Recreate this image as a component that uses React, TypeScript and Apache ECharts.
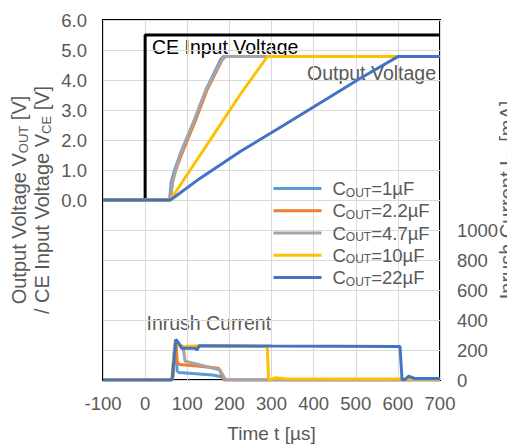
import React, { useEffect, useRef } from "react";
import * as echarts from "echarts";

// ---- data ----
const capLabels = ["1", "2.2", "4.7", "10", "22"];
const capColors = ["#5B9BD5", "#ED7D31", "#A5A5A5", "#FFC000", "#4472C4"];

const ceVoltage: number[][] = [[-100, 0], [0, 0], [0, 5.5], [700, 5.5]];

const vout1uF: number[][] = [[-100, 0], [58, 0], [62, 0.6], [70, 1.0], [85, 1.6], [115, 2.6], [146, 3.72], [180, 4.7], [186, 4.78], [700, 4.78]];
const vout2uF: number[][] = [[-100, 0], [60, 0], [66, 0.7], [73, 1.0], [86, 1.5], [117, 2.56], [148, 3.7], [184, 4.7], [191, 4.78], [700, 4.78]];
const vout4uF: number[][] = [[-100, 0], [60, 0], [64, 0.5], [71, 0.94], [83, 1.5], [114, 2.56], [146, 3.72], [182, 4.67], [190, 4.78], [700, 4.78]];
const vout10uF: number[][] = [[-100, 0], [60, 0], [100, 0.85], [160, 2.12], [225, 3.5], [290, 4.78], [700, 4.78]];
const vout22uF: number[][] = [[-100, 0], [60, 0], [70, 0.1], [130, 0.72], [225, 1.61], [330, 2.5], [423, 3.3], [510, 4.05], [600, 4.78], [700, 4.78]];

const iin1uF: number[][] = [[-100, 0], [62, 0], [66, 20], [70, 200], [73, 250], [76, 60], [80, 50], [120, 42], [160, 33], [182, 22], [188, 0], [700, 0]];
const iin2uF: number[][] = [[-100, 0], [62, 0], [66, 20], [70, 200], [73, 265], [76, 115], [82, 104], [130, 92], [174, 78], [184, 25], [188, 0], [700, 0]];
const iin4uF: number[][] = [[-100, 0], [64, 0], [70, 230], [73, 268], [80, 235], [90, 222], [95, 125], [110, 115], [178, 67], [188, 15], [193, 0], [700, 0]];
const iin10uF: number[][] = [[-100, 0], [63, 0], [68, 150], [72, 268], [78, 240], [87, 215], [100, 225], [130, 228], [290, 224], [293, 0], [300, 5], [310, 15], [330, 8], [700, 6]];
const iin22uF: number[][] = [[-100, 0], [64, 0], [70, 180], [73, 271], [80, 245], [87, 211], [120, 212], [123, 198], [128, 228], [300, 226], [605, 224], [610, 0], [618, 5], [625, 25], [640, 10], [700, 10]];

const voutSets = [vout1uF, vout2uF, vout4uF, vout10uF, vout22uF];
const iinSets = [iin1uF, iin2uF, iin4uF, iin10uF, iin22uF];

const xMin = -100, xMax = 700, xStep = 100;
const vMin = -6, vMax = 6, vStep = 1;
const iMin = 0, iMax = 2400, iStep = 200, iLabelMax = 1000;

const FONT = '"Liberation Sans", Arial, Helvetica, sans-serif';
const GREY = "#595959";

export default function App() {
  const ref = useRef<HTMLDivElement>(null);
  useEffect(() => {
    if (!ref.current) return;
    const chart = echarts.init(ref.current, undefined, { renderer: "svg" });

    const series: any[] = [
      {
        type: "line",
        name: "CE",
        data: ceVoltage,
        yAxisIndex: 0,
        symbol: "none",
        lineStyle: { color: "#000000", width: 3 },
        itemStyle: { color: "#000000" },
        silent: true,
      },
    ];
    capLabels.forEach((c, i) => {
      series.push({
        type: "line",
        name: c,
        data: voutSets[i],
        yAxisIndex: 0,
        symbol: "none",
        lineStyle: { color: capColors[i], width: 3 },
        itemStyle: { color: capColors[i] },
        silent: true,
      });
    });
    capLabels.forEach((c, i) => {
      series.push({
        type: "line",
        name: c,
        data: iinSets[i],
        yAxisIndex: 1,
        symbol: "none",
        lineStyle: { color: capColors[i], width: 3 },
        itemStyle: { color: capColors[i] },
        silent: true,
      });
    });

    const nameRich = {
      a: { fontSize: 20, fontFamily: FONT, color: GREY, lineHeight: 23 },
      s: { fontSize: 13, fontFamily: FONT, color: GREY, lineHeight: 9, verticalAlign: "bottom" },
    };

    chart.setOption({
      animation: false,
      textStyle: { fontFamily: FONT },
      grid: {
        left: 103,
        right: 67,
        top: 20,
        bottom: 65,
        containLabel: false,
        outerBoundsMode: "none",
        show: true,
        borderColor: "#000000",
        borderWidth: 2,
        backgroundColor: "transparent",
      },
      legend: {
        data: capLabels,
        orient: "vertical",
        left: 272,
        top: 179,
        padding: 0,
        itemWidth: 48,
        itemHeight: 20,
        itemGap: 2.75,
        selectedMode: false,
        itemStyle: { opacity: 0 },
        lineStyle: { width: 3 },
        formatter: (name: string) => `{f|C}{s|OUT}{a|=${name}µF}`,
        textStyle: {
          color: GREY,
          fontSize: 18.5,
          fontFamily: FONT,
          rich: {
            f: { fontSize: 18.5, fontFamily: FONT, color: GREY, lineHeight: 20, padding: [0, 0, 0, 6] },
            a: { fontSize: 18.5, fontFamily: FONT, color: GREY, lineHeight: 20 },
            s: { fontSize: 12, fontFamily: FONT, color: GREY, lineHeight: 7, verticalAlign: "bottom" },
          },
        },
      },
      xAxis: {
        type: "value",
        min: xMin,
        max: xMax,
        interval: xStep,
        name: "Time t [µs]",
        nameLocation: "middle",
        nameGap: 44,
        nameMoveOverlap: false,
        nameTextStyle: { color: GREY, fontSize: 19, fontFamily: FONT },
        axisLine: { show: false },
        axisTick: { show: false },
        axisLabel: { color: GREY, fontSize: 18.5, fontFamily: FONT, margin: 14 },
        splitLine: { show: true, lineStyle: { color: "#D9D9D9", width: 1 } },
      },
      yAxis: [
        {
          type: "value",
          position: "left",
          min: vMin,
          max: vMax,
          interval: vStep,
          name: "{a|Output Voltage V}{s|OUT}{a| [V]}\n{a|/ CE Input Voltage V}{s|CE}{a| [V]}",
          nameLocation: "middle",
          nameGap: 50,
          nameMoveOverlap: false,
          nameTextStyle: { color: GREY, fontSize: 20, fontFamily: FONT, align: "center", rich: nameRich },
          axisLine: { show: false },
          axisTick: { show: false },
          axisLabel: {
            color: GREY,
            fontSize: 18.5,
            fontFamily: FONT,
            margin: 16,
            formatter: (v: number) => (v >= 0 ? v.toFixed(1) : ""),
          },
          splitLine: { show: true, lineStyle: { color: "#D9D9D9", width: 1 } },
        },
        {
          type: "value",
          position: "right",
          min: iMin,
          max: iMax,
          interval: iStep,
          name: "{a|Inrush Current I}{s|IN}{a| [mA]}",
          nameLocation: "middle",
          nameGap: 55,
          nameMoveOverlap: false,
          nameTextStyle: { color: GREY, fontSize: 20, fontFamily: FONT, rich: nameRich },
          axisLine: { show: false },
          axisTick: { show: false },
          axisLabel: {
            color: GREY,
            fontSize: 18.5,
            fontFamily: FONT,
            margin: 17,
            formatter: (v: number) => (v <= iLabelMax ? String(v) : ""),
          },
          splitLine: { show: false },
        },
      ],
      graphic: [
        {
          type: "text",
          x: 152,
          y: 46.7,
          silent: true,
          style: { text: "CE Input Voltage", fill: "#000000", fontSize: 19.5, fontFamily: FONT, verticalAlign: "middle", align: "left" },
        },
        {
          type: "text",
          x: 307,
          y: 72.5,
          silent: true,
          style: { text: "Output Voltage", fill: GREY, fontSize: 19.5, fontFamily: FONT, verticalAlign: "middle", align: "left" },
        },
        {
          type: "text",
          x: 146.5,
          y: 322.5,
          silent: true,
          style: { text: "Inrush Current", fill: GREY, fontSize: 19.5, fontFamily: FONT, verticalAlign: "middle", align: "left" },
        },
      ],
      series,
    });

    return () => {
      chart.dispose();
    };
  }, []);

  return (
    <div
      ref={ref}
      style={{ position: "fixed", left: 0, top: 0, width: 507, height: 445, background: "#ffffff" }}
    />
  );
}
